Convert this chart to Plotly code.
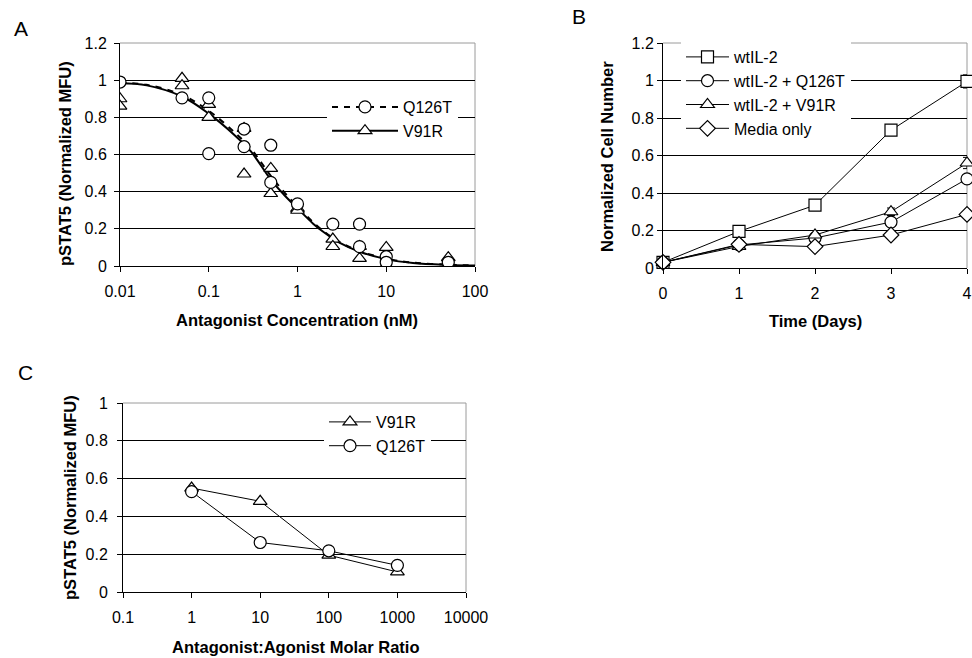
import plotly.graph_objects as go

FONT = "Arial, 'Liberation Sans', sans-serif"

# ---------------- Panel A data ----------------
a_tickvals = [0.01, 0.1, 1, 10, 100]
a_ticktext = ["0.01", "0.1", "1", "10", "100"]
a_q126t_x = [0.01, 0.05, 0.1, 0.1, 0.25, 0.25, 0.5, 0.5, 1, 2.5, 5, 5, 10, 10, 50]
a_q126t_y = [0.99, 0.905, 0.905, 0.605, 0.737, 0.642, 0.65, 0.45, 0.334, 0.225, 0.225, 0.104, 0.05, 0.02, 0.02]
a_v91r_x = [0.01, 0.01, 0.05, 0.05, 0.1, 0.1, 0.25, 0.25, 0.5, 0.5, 1, 1,
            2.5, 2.5, 5, 5, 10, 10, 50, 50]
a_v91r_y = [0.90, 0.86, 1.01, 0.97, 0.87, 0.80, 0.74, 0.495, 0.525, 0.39, 0.31, 0.30,
            0.145, 0.105, 0.105, 0.041, 0.10, 0.005, 0.045, 0.005]
a_fit_x = [0.01, 0.02, 0.05, 0.1, 0.2, 0.3, 0.5, 0.7, 1, 1.5, 2, 3, 5, 10, 20, 50, 100]
a_fit_q126t = [0.985, 0.975, 0.92, 0.835, 0.715, 0.63, 0.485, 0.40, 0.32, 0.235, 0.185,
               0.128, 0.08, 0.04, 0.018, 0.007, 0.003]
a_fit_v91r = [0.983, 0.972, 0.912, 0.82, 0.70, 0.615, 0.465, 0.385, 0.31, 0.228, 0.18,
              0.124, 0.077, 0.037, 0.016, 0.006, 0.003]

# ---------------- Panel B data ----------------
b_days = [0, 1, 2, 3, 4]
b_wt = [0.03, 0.195, 0.335, 0.735, 0.995]
b_wt_err = [0, 0, 0, 0.01, 0.035]
b_q126t = [0.03, 0.123, 0.16, 0.245, 0.475]
b_q126t_err = [0, 0, 0.01, 0.025, 0.02]
b_v91r = [0.03, 0.115, 0.176, 0.30, 0.56]
b_v91r_err = [0, 0, 0.01, 0.02, 0.03]
b_media = [0.03, 0.126, 0.114, 0.176, 0.286]
b_media_err = [0, 0, 0, 0.01, 0.01]

# ---------------- Panel C data ----------------
c_tickvals = [0.1, 1, 10, 100, 1000, 10000]
c_ticktext = ["0.1", "1", "10", "100", "1000", "10000"]
c_ratio = [1, 10, 100, 1000]
c_v91r = [0.55, 0.48, 0.195, 0.106]
c_q126t = [0.531, 0.262, 0.218, 0.141]

W, H = 972, 658


def px_x(p):
    return p / W


def px_y(p):
    return 1 - p / H


fig = go.Figure()

mk = dict(color="white", line=dict(color="black", width=1.2))

# ---- Panel A traces ----
fig.add_trace(go.Scatter(x=a_fit_x, y=a_fit_q126t, mode="lines", line=dict(color="black", width=2, dash="6px,6px"),
                         line_shape="spline", xaxis="x", yaxis="y", showlegend=False, hoverinfo="skip"))
fig.add_trace(go.Scatter(x=a_fit_x, y=a_fit_v91r, mode="lines", line=dict(color="black", width=2),
                         line_shape="spline", xaxis="x", yaxis="y", showlegend=False, hoverinfo="skip"))
fig.add_trace(go.Scatter(x=a_v91r_x, y=a_v91r_y, mode="markers",
                         marker=dict(symbol="triangle-up", size=12, **mk), xaxis="x", yaxis="y", showlegend=False))
fig.add_trace(go.Scatter(x=a_q126t_x, y=a_q126t_y, mode="markers",
                         marker=dict(symbol="circle", size=12, **mk), xaxis="x", yaxis="y", showlegend=False))
# legend entries A
fig.add_trace(go.Scatter(x=[None], y=[None], mode="lines+markers", name="Q126T",
                         line=dict(color="black", width=2, dash="6px,6px"),
                         marker=dict(symbol="circle", size=12, **mk), xaxis="x", yaxis="y", legend="legend"))
fig.add_trace(go.Scatter(x=[None], y=[None], mode="lines+markers", name="V91R",
                         line=dict(color="black", width=2),
                         marker=dict(symbol="triangle-up", size=12, **mk), xaxis="x", yaxis="y", legend="legend"))

# ---- Panel B traces ----
b_series = [
    ("wtIL-2", b_wt, b_wt_err, "square", 12),
    ("wtIL-2 + Q126T", b_q126t, b_q126t_err, "circle", 12),
    ("wtIL-2 + V91R", b_v91r, b_v91r_err, "triangle-up", 12),
    ("Media only", b_media, b_media_err, "diamond", 12),
]
for name, ys, errs, sym, sz in b_series:
    fig.add_trace(go.Scatter(x=b_days, y=ys, mode="lines+markers", name=name,
                             line=dict(color="black", width=1),
                             marker=dict(symbol=sym, size=sz, **mk),
                             error_y=dict(type="data", array=errs, color="black", thickness=1, width=4),
                             xaxis="x2", yaxis="y2", legend="legend2", cliponaxis=False))

# ---- Panel C traces ----
fig.add_trace(go.Scatter(x=c_ratio, y=c_v91r, mode="lines+markers", name="V91R",
                         line=dict(color="black", width=1),
                         marker=dict(symbol="triangle-up", size=12, **mk),
                         xaxis="x3", yaxis="y3", legend="legend3"))
fig.add_trace(go.Scatter(x=c_ratio, y=c_q126t, mode="lines+markers", name="Q126T",
                         line=dict(color="black", width=1),
                         marker=dict(symbol="circle", size=12, **mk),
                         xaxis="x3", yaxis="y3", legend="legend3"))

tickfont = dict(family=FONT, size=16, color="black")


def xax(domain, anchor, **kw):
    d = dict(domain=domain, anchor=anchor, showline=True, linecolor="black", linewidth=1,
             ticks="outside", ticklen=5, tickcolor="black", tickwidth=1, showgrid=False,
             zeroline=False, tickfont=tickfont, ticklabelstandoff=6, fixedrange=True,
             automargin=False)
    d.update(kw)
    return d


def yax(domain, anchor, **kw):
    d = dict(domain=domain, anchor=anchor, showline=True, linecolor="black", linewidth=1,
             ticks="outside", ticklen=5, tickcolor="black", tickwidth=1, showgrid=True,
             gridcolor="black", gridwidth=1, zeroline=False, tickfont=tickfont,
             ticklabelstandoff=4, fixedrange=True, automargin=False)
    d.update(kw)
    return d


dA_x = [px_x(120), px_x(475)]
dA_y = [px_y(266), px_y(43)]
dB_x = [px_x(663), px_x(967)]
dB_y = [px_y(268), px_y(43)]
dC_x = [px_x(123), px_x(466)]
dC_y = [px_y(592), px_y(403)]

legfont = dict(family=FONT, size=16, color="black")

fig.update_layout(
    width=W, height=H,
    margin=dict(l=0, r=0, t=0, b=0, autoexpand=False),
    paper_bgcolor="white", plot_bgcolor="white",
    font=dict(family=FONT, color="black"),
    xaxis=xax(dA_x, "y", type="log", range=[-2, 2], tickvals=a_tickvals, ticktext=a_ticktext),
    yaxis=yax(dA_y, "x", range=[0, 1.2], dtick=0.2, tick0=0),
    xaxis2=xax(dB_x, "y2", range=[0, 4], dtick=1, tick0=0),
    yaxis2=yax(dB_y, "x2", range=[0, 1.2], dtick=0.2, tick0=0, ticklabelstandoff=0),
    xaxis3=xax(dC_x, "y3", type="log", range=[-1, 4], tickvals=c_tickvals, ticktext=c_ticktext),
    yaxis3=yax(dC_y, "x3", range=[0, 1], dtick=0.2, tick0=0, ticklabelstandoff=6),
    legend=dict(x=px_x(327), y=px_y(90), xanchor="left", yanchor="top", bgcolor="white",
                borderwidth=0, font=legfont, itemwidth=66, tracegroupgap=0),
    legend2=dict(x=px_x(681), y=px_y(40), xanchor="left", yanchor="top", bgcolor="white",
                 borderwidth=0, font=legfont, itemwidth=43),
    legend3=dict(x=px_x(324), y=px_y(405), xanchor="left", yanchor="top", bgcolor="white",
                 borderwidth=0, font=legfont, itemwidth=42),
    showlegend=True,
)

# gray top/right plot borders
shapes = []
for xr, yr in [("x", "y"), ("x2", "y2"), ("x3", "y3")]:
    shapes.append(dict(type="line", xref=f"{xr} domain", yref=f"{yr} domain", x0=0, x1=1, y0=1, y1=1,
                       line=dict(color="#9a9a9a", width=1), layer="above"))
    shapes.append(dict(type="line", xref=f"{xr} domain", yref=f"{yr} domain", x0=1, x1=1, y0=0, y1=1,
                       line=dict(color="#9a9a9a", width=1), layer="below"))
fig.update_layout(shapes=shapes)

titlefont = dict(family=FONT, size=16.5, color="black")
ann = [
    dict(text="A", x=px_x(21), y=px_y(29), font=dict(family=FONT, size=21, color="black")),
    dict(text="B", x=px_x(579), y=px_y(16), font=dict(family=FONT, size=21, color="black")),
    dict(text="C", x=px_x(25), y=px_y(373), font=dict(family=FONT, size=21, color="black")),
    dict(text="<b>Antagonist Concentration (nM)</b>", x=px_x(297), y=px_y(320), font=titlefont),
    dict(text="<b>pSTAT5 (Normalized MFU)</b>", x=px_x(65), y=px_y(164), font=titlefont, textangle=-90),
    dict(text="<b>Time (Days)</b>", x=px_x(815), y=px_y(321), font=titlefont),
    dict(text="<b>Normalized Cell Number</b>", x=px_x(607), y=px_y(157), font=titlefont, textangle=-90),
    dict(text="<b>Antagonist:Agonist Molar Ratio</b>", x=px_x(295), y=px_y(647), font=titlefont),
    dict(text="<b>pSTAT5 (Normalized MFU)</b>", x=px_x(70), y=px_y(498), font=titlefont, textangle=-90),
]
for a in ann:
    a.update(xref="paper", yref="paper", showarrow=False, xanchor="center", yanchor="middle")
fig.update_layout(annotations=ann)

fig.write_html("out.html", config={"displayModeBar": False},
               post_script="document.body.style.margin='0';document.body.style.overflow='hidden';")
